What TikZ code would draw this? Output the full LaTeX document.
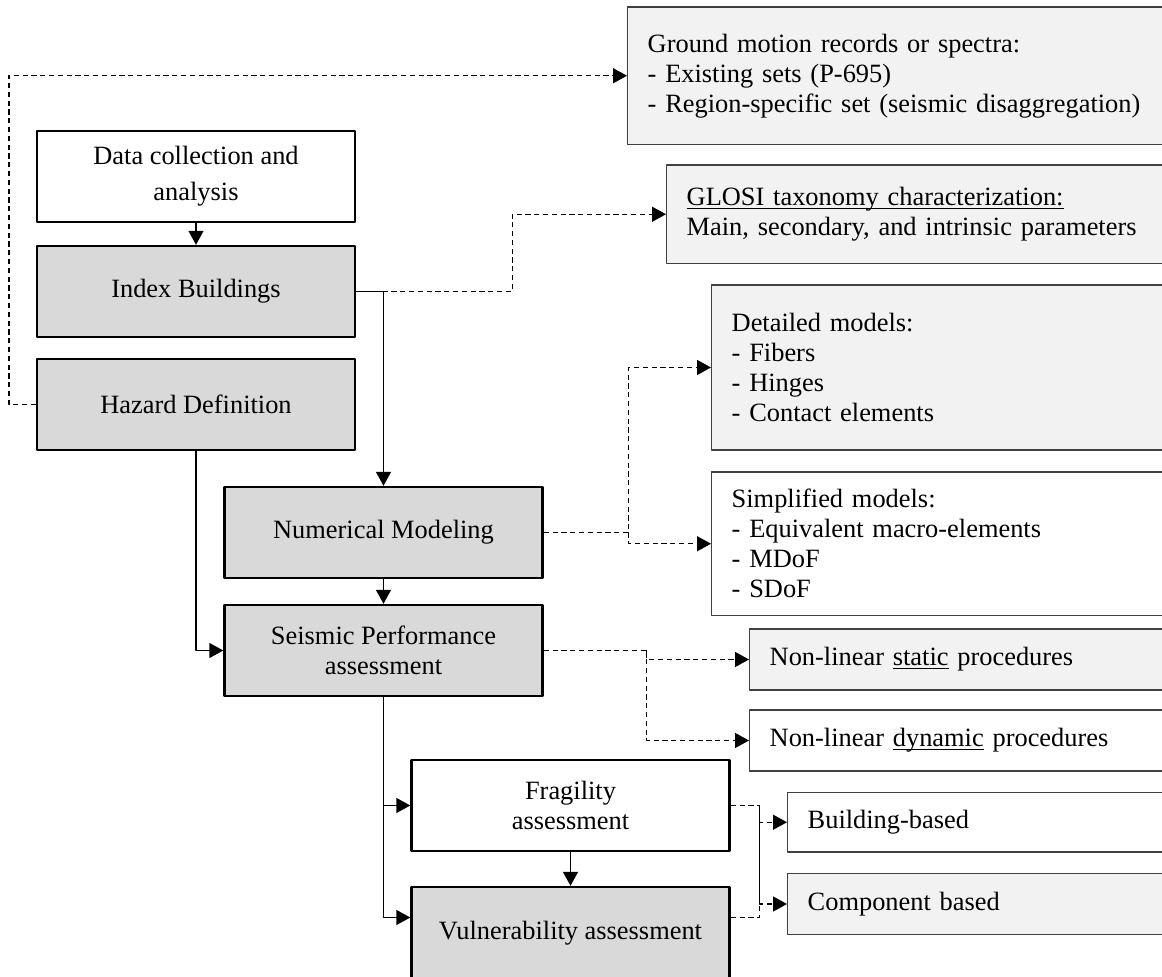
\documentclass[tikz,border=0pt]{standalone}
\usepackage{fontspec}
\setmainfont{Liberation Serif}
\usetikzlibrary{arrows.meta,calc,positioning}
\definecolor{boxgray}{HTML}{D9D9D9}
\definecolor{sidegray}{HTML}{F2F2F2}
\definecolor{edgegray}{HTML}{404040}
\newcommand{\lowline}[1]{\underline{\smash{#1}}\vphantom{#1}}
\tikzset{
  mainbox/.style={draw,line width=1.2pt,minimum width=159pt,minimum height=45.5pt,align=center,inner sep=2pt},
  sidebox/.style={draw=edgegray,line width=0.7pt,anchor=west,align=left,inner xsep=10pt,inner ysep=2pt,text width=#1},
  arr/.style={line width=0.7pt,-{Triangle[length=7pt,width=7.5pt]}},
  darr/.style={arr,dash pattern=on 2.6pt off 1.8pt},
  dline/.style={line width=0.7pt,dash pattern=on 2.6pt off 1.8pt}
}

\begin{document}
\begin{tikzpicture}[x=0.5pt,y=-0.5pt,line join=round,font=\fontsize{13.2}{15}\selectfont]
\useasboundingbox (0,0) rectangle (1162,977);
\node[mainbox] (data) at (196,176.5) {Data collection and\\[3pt]analysis};
\node[mainbox,fill=boxgray] (index) at (196,291.5) {Index Buildings};
\node[mainbox,fill=boxgray] (hazard) at (196,404.5) {Hazard Definition};
\node[mainbox,fill=boxgray] (numer) at (383.5,532.5) {Numerical Modeling};
\node[mainbox,fill=boxgray] (perf) at (383.5,650.5) {Seismic Performance\\assessment};
\node[mainbox] (fragil) at (570.5,805.5) {Fragility\\assessment};
\node[mainbox,fill=boxgray,minimum height=46.5pt] (vulner) at (570.5,933.5) {Vulnerability assessment};

\node[sidebox=256.5pt,fill=sidegray,minimum height=68.75pt] (ground) at (627,75.75) {Ground motion records or spectra:\\- Existing sets (P-695)\\- Region-specific set (seismic disaggregation)};
\node[sidebox=237pt,fill=sidegray,minimum height=49.25pt] (glosi) at (666,214.25) {\lowline{GLOSI taxonomy characterization:}\\Main, secondary, and intrinsic parameters};
\node[sidebox=214.5pt,fill=sidegray,minimum height=82.5pt] (detail) at (711,367.5) {Detailed models:\\- Fibers\\- Hinges\\- Contact elements};
\node[sidebox=214.5pt,fill=white,minimum height=71.75pt] (simpl) at (711,543.75) {Simplified models:\\- Equivalent macro-elements\\- MDoF\\- SDoF};
\node[sidebox=195.5pt,fill=sidegray,minimum height=30.5pt] (static) at (749,659.5) {Non-linear \lowline{static} procedures};
\node[sidebox=195.5pt,minimum height=30.5pt] (dynamic) at (749,740.5) {Non-linear \lowline{dynamic} procedures};
\node[sidebox=176.5pt,minimum height=29.75pt] (bldg) at (787,822.25) {Building-based};
\node[sidebox=176.5pt,fill=sidegray,minimum height=30.5pt] (comp) at (787,904) {Component based};

\draw[arr] (data) -- (index);
\draw[arr] (index.east) -| (numer.north);
\draw[darr] (index.east) -- ++(156,0) |- (glosi.west);
\draw[darr] (hazard.west) -- ++(-27,0) |- (ground.west);
\draw[arr] (hazard.south) |- (perf.west);
\draw[arr] (numer) -- (perf);
\draw[darr] (numer.east) -- ++(85,0) coordinate (nm) |- (detail.west);
\draw[darr] (nm) |- (simpl.west);
\draw[darr] (perf.east) -- ++(103,0) coordinate (pm) |- (static.west);
\draw[darr] (pm) |- (dynamic.west);
\draw[arr] (perf.south) |- (fragil.west);
\draw[arr] (perf.south) |- ([yshift=8pt]vulner.west);
\draw[arr] (fragil) -- (vulner);
\draw[darr] (fragil.east) -- ++(29,0) coordinate (fm) |- (bldg.west);
\draw[darr] (fm) |- (comp.west);
\draw[dline] ([yshift=8pt]vulner.east) -| (fm);
\end{tikzpicture}
\end{document}
